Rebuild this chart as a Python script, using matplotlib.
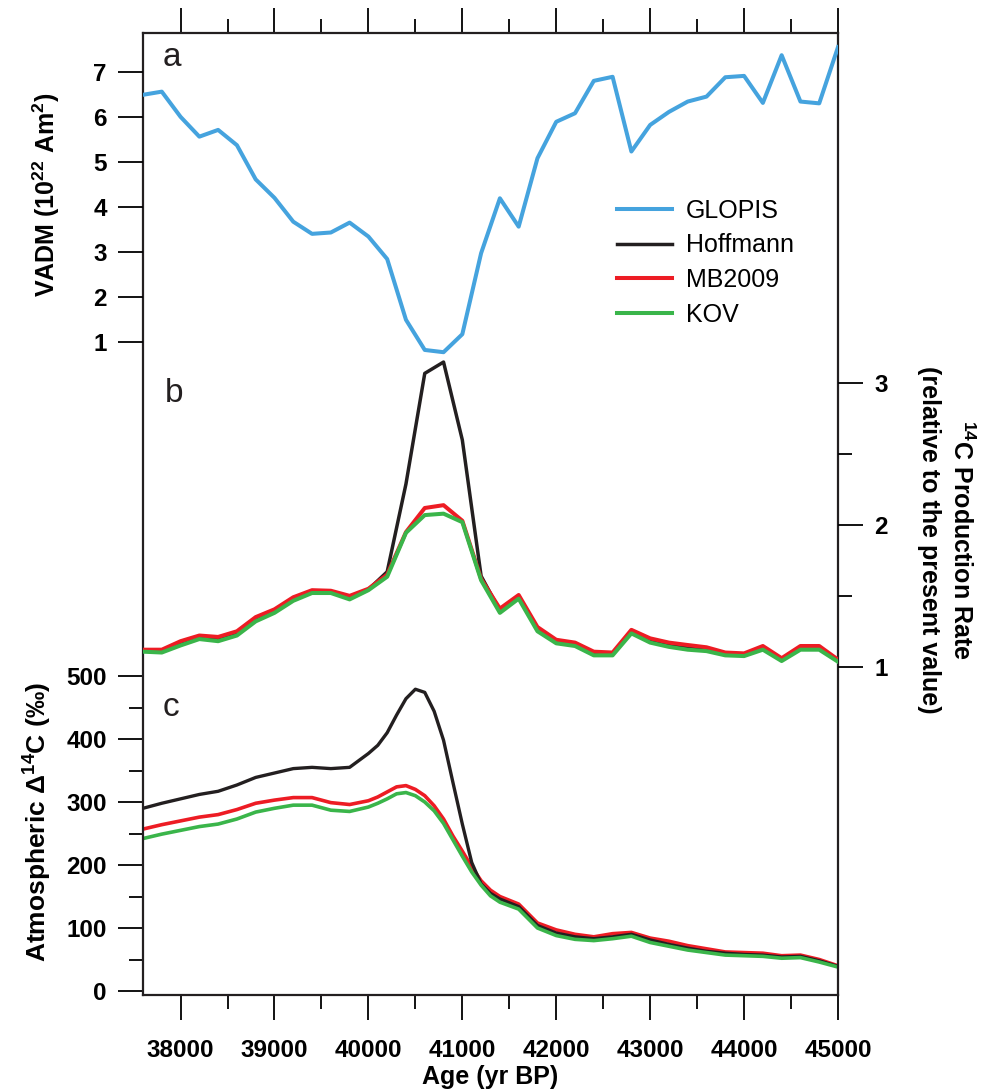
import matplotlib.pyplot as plt
from matplotlib.ticker import FixedLocator, MultipleLocator

plt.rcParams['font.family'] = ['Liberation Sans', 'DejaVu Sans']
plt.rcParams['font.weight'] = 'bold'
plt.rcParams['mathtext.fontset'] = 'custom'
plt.rcParams['mathtext.rm'] = 'Liberation Sans:bold'
plt.rcParams['mathtext.bf'] = 'Liberation Sans:bold'
plt.rcParams['mathtext.default'] = 'bf'

# a) VADM und b) 14C-Produktionsrate, alle 200 Jahre
age = [37600, 37800, 38000, 38200, 38400, 38600, 38800, 39000, 39200, 39400,
       39600, 39800, 40000, 40200, 40400, 40600, 40800, 41000, 41200, 41400,
       41600, 41800, 42000, 42200, 42400, 42600, 42800, 43000, 43200, 43400,
       43600, 43800, 44000, 44200, 44400, 44600, 44800, 45000]

glopis = [6.50, 6.57, 6.01, 5.57, 5.72, 5.38, 4.62, 4.21, 3.68, 3.41,
          3.44, 3.66, 3.35, 2.85, 1.50, 0.83, 0.78, 1.18, 2.98, 4.20,
          3.57, 5.09, 5.90, 6.09, 6.81, 6.90, 5.24, 5.83, 6.12, 6.35,
          6.46, 6.89, 6.92, 6.32, 7.38, 6.35, 6.31, 7.56]

prod_hoff = [1.11, 1.11, 1.165, 1.21, 1.195, 1.235, 1.335, 1.39, 1.475, 1.53,
             1.528, 1.49, 1.545, 1.67, 2.29, 3.07, 3.15, 2.60, 1.64, 1.395,
             1.49, 1.265, 1.18, 1.16, 1.095, 1.09, 1.25, 1.185, 1.155, 1.135,
             1.125, 1.09, 1.085, 1.135, 1.05, 1.135, 1.135, 1.043]
prod_mb = [1.12, 1.12, 1.18, 1.22, 1.21, 1.25, 1.35, 1.405, 1.49, 1.54,
           1.536, 1.50, 1.55, 1.65, 1.95, 2.12, 2.14, 2.03, 1.62, 1.41,
           1.506, 1.28, 1.19, 1.17, 1.106, 1.10, 1.26, 1.20, 1.17, 1.153,
           1.137, 1.10, 1.094, 1.146, 1.06, 1.146, 1.146, 1.05]
prod_kov = [1.106, 1.10, 1.15, 1.195, 1.18, 1.22, 1.32, 1.38, 1.465, 1.52,
            1.52, 1.475, 1.54, 1.635, 1.945, 2.07, 2.08, 2.02, 1.61, 1.38,
            1.48, 1.25, 1.165, 1.146, 1.08, 1.08, 1.235, 1.17, 1.14, 1.12,
            1.11, 1.08, 1.075, 1.12, 1.04, 1.12, 1.12, 1.035]

# c) atmosphaerisches Delta14C
age_c = [37600, 37800, 38000, 38200, 38400, 38600, 38800, 39000, 39200, 39400,
         39600, 39800, 40000, 40100, 40200, 40300, 40400, 40500, 40600, 40700,
         40800, 40900, 41000, 41100, 41200, 41300, 41400, 41600, 41800, 42000,
         42200, 42400, 42600, 42800, 43000, 43200, 43400, 43600, 43800, 44000,
         44200, 44400, 44600, 44800, 45000]
d14c_hoff = [290, 298, 305, 312, 317, 327, 339, 346, 353, 355,
             353, 355, 377, 390, 410, 438, 464, 479, 474, 444,
             398, 331, 265, 204, 170, 155, 146, 134, 104, 92,
             86, 83, 86, 90, 81, 74, 68, 63, 60, 58,
             57, 54, 55, 48, 39]
d14c_mb = [257, 264, 270, 276, 280, 288, 298, 303, 307, 307,
           299, 296, 302, 308, 316, 324, 326, 320, 310, 294,
           273, 246, 222, 197, 175, 160, 150, 138, 108, 97,
           90, 86, 91, 93, 84, 79, 72, 67, 62, 61,
           60, 56, 57, 50, 40]
d14c_kov = [242, 249, 255, 261, 265, 273, 284, 290, 295, 295,
            287, 285, 292, 298, 305, 313, 315, 310, 300, 286,
            266, 240, 214, 189, 168, 151, 141, 130, 100, 88,
            82, 80, 83, 87, 77, 71, 65, 61, 57, 56,
            55, 52, 53, 46, 38]

c_blue = '#45a3de'
c_black = '#231f20'
c_red = '#ed1c24'
c_green = '#3ab54a'

W, H = 990, 1091
L, R, T, B = 143, 838, 33, 995
fig = plt.figure(figsize=(W / 100, H / 100), dpi=100)
rect = [L / W, 1 - B / H, (R - L) / W, (B - T) / H]


def ylim_from(v0, p0, v1, p1):
    # Werte v0, v1 liegen bei Pixel p0, p1 -> Grenzen fuer die ganze Box
    s = (p0 - p1) / (v1 - v0)
    return v0 - (B - p0) / s, v0 + (p0 - T) / s


tick_kw = dict(direction='out', width=1.3, labelsize=17.5, pad=8)

# Panel c (Grundachse mit Rahmen)
ax = fig.add_axes(rect)
ax.plot(age_c, d14c_mb, color=c_red, lw=2.6, solid_joinstyle='round')
ax.plot(age_c, d14c_hoff, color=c_black, lw=2.4, solid_joinstyle='round')
ax.plot(age_c, d14c_kov, color=c_green, lw=2.6, solid_joinstyle='round')
ax.set_xlim(37600, 45000)
ax.set_ylim(*ylim_from(0, 991, 500, 676))
ax.yaxis.set_major_locator(FixedLocator([0, 100, 200, 300, 400, 500]))
ax.yaxis.set_minor_locator(FixedLocator([50, 150, 250, 350, 450]))
ax.xaxis.set_major_locator(MultipleLocator(1000))
ax.xaxis.set_minor_locator(FixedLocator([38500, 39500, 40500, 41500, 42500, 43500, 44500]))
ax.tick_params(axis='both', which='major', length=18, **tick_kw)
ax.tick_params(axis='both', which='minor', length=10, width=1.3, direction='out')
ax.tick_params(axis='x', which='both', top=True, bottom=True)
ax.tick_params(axis='x', which='major', pad=14)
for sp in ax.spines.values():
    sp.set_linewidth(1.6)
    sp.set_color(c_black)

# Panel b (rechte Achse)
ax_b = ax.twinx()
ax_b.plot(age, prod_hoff, color=c_black, lw=2.5, solid_joinstyle='round')
ax_b.plot(age, prod_mb, color=c_red, lw=2.9, solid_joinstyle='round')
ax_b.plot(age, prod_kov, color=c_green, lw=2.9, solid_joinstyle='round')
ax_b.set_ylim(*ylim_from(1, 666.7, 3, 383.3))
ax_b.yaxis.set_major_locator(FixedLocator([1, 2, 3]))
ax_b.yaxis.set_minor_locator(FixedLocator([1.5, 2.5]))
ax_b.tick_params(axis='y', which='major', length=18, **tick_kw)
ax_b.tick_params(axis='y', which='minor', length=10, width=1.3, direction='out')
for sp in ax_b.spines.values():
    sp.set_visible(False)

# Panel a (linke Achse oben)
ax_a = fig.add_axes(rect, sharex=ax)
ax_a.patch.set_visible(False)
ax_a.plot(age, glopis, color=c_blue, lw=2.9, solid_joinstyle='round')
ax_a.set_ylim(*ylim_from(1, 342.3, 7, 72.3))
ax_a.yaxis.set_major_locator(FixedLocator([1, 2, 3, 4, 5, 6, 7]))
ax_a.tick_params(axis='y', which='major', length=18, **tick_kw)
ax_a.tick_params(axis='x', which='both', bottom=False, top=False,
                 labelbottom=False, labeltop=False)
for sp in ax_a.spines.values():
    sp.set_visible(False)

# Achsentitel
fig.text(46 / W, 1 - 195 / H, 'VADM (10$^{22}$ Am$^{2}$)', rotation=90,
         ha='center', va='center', fontsize=18)
fig.text(38 / W, 1 - 822 / H, 'Atmospheric \u0394$^{14}$C (\u2030)', rotation=90,
         ha='center', va='center', fontsize=19)
fig.text(946 / W, 1 - 540 / H, '$^{14}$C Production Rate\n(relative to the present value)',
         rotation=-90, ha='center', va='center', fontsize=18, linespacing=1.35)
fig.text(490 / W, 1 - 1077 / H, 'Age (yr BP)', ha='center', va='center', fontsize=18)

# Panel-Buchstaben
for lab, px, py in [('a', 172, 57), ('b', 174, 393), ('c', 171, 708)]:
    fig.text(px / W, 1 - py / H, lab, ha='center', va='center',
             fontsize=24, fontweight='normal', color=c_black)

# Legende
handles = [ax_a.lines[0], ax_b.lines[0], ax_b.lines[1], ax_b.lines[2]]
labels = ['GLOPIS', 'Hoffmann', 'MB2009', 'KOV']
fig.legend(handles, labels, loc='upper left', bbox_to_anchor=(617 / W, 1 - 199 / H),
           frameon=False, prop={'size': 18, 'weight': 'normal'}, handlelength=2.2,
           handletextpad=0.55, labelspacing=0.42, borderpad=0, borderaxespad=0)

fig.savefig('out.png', dpi=100)
